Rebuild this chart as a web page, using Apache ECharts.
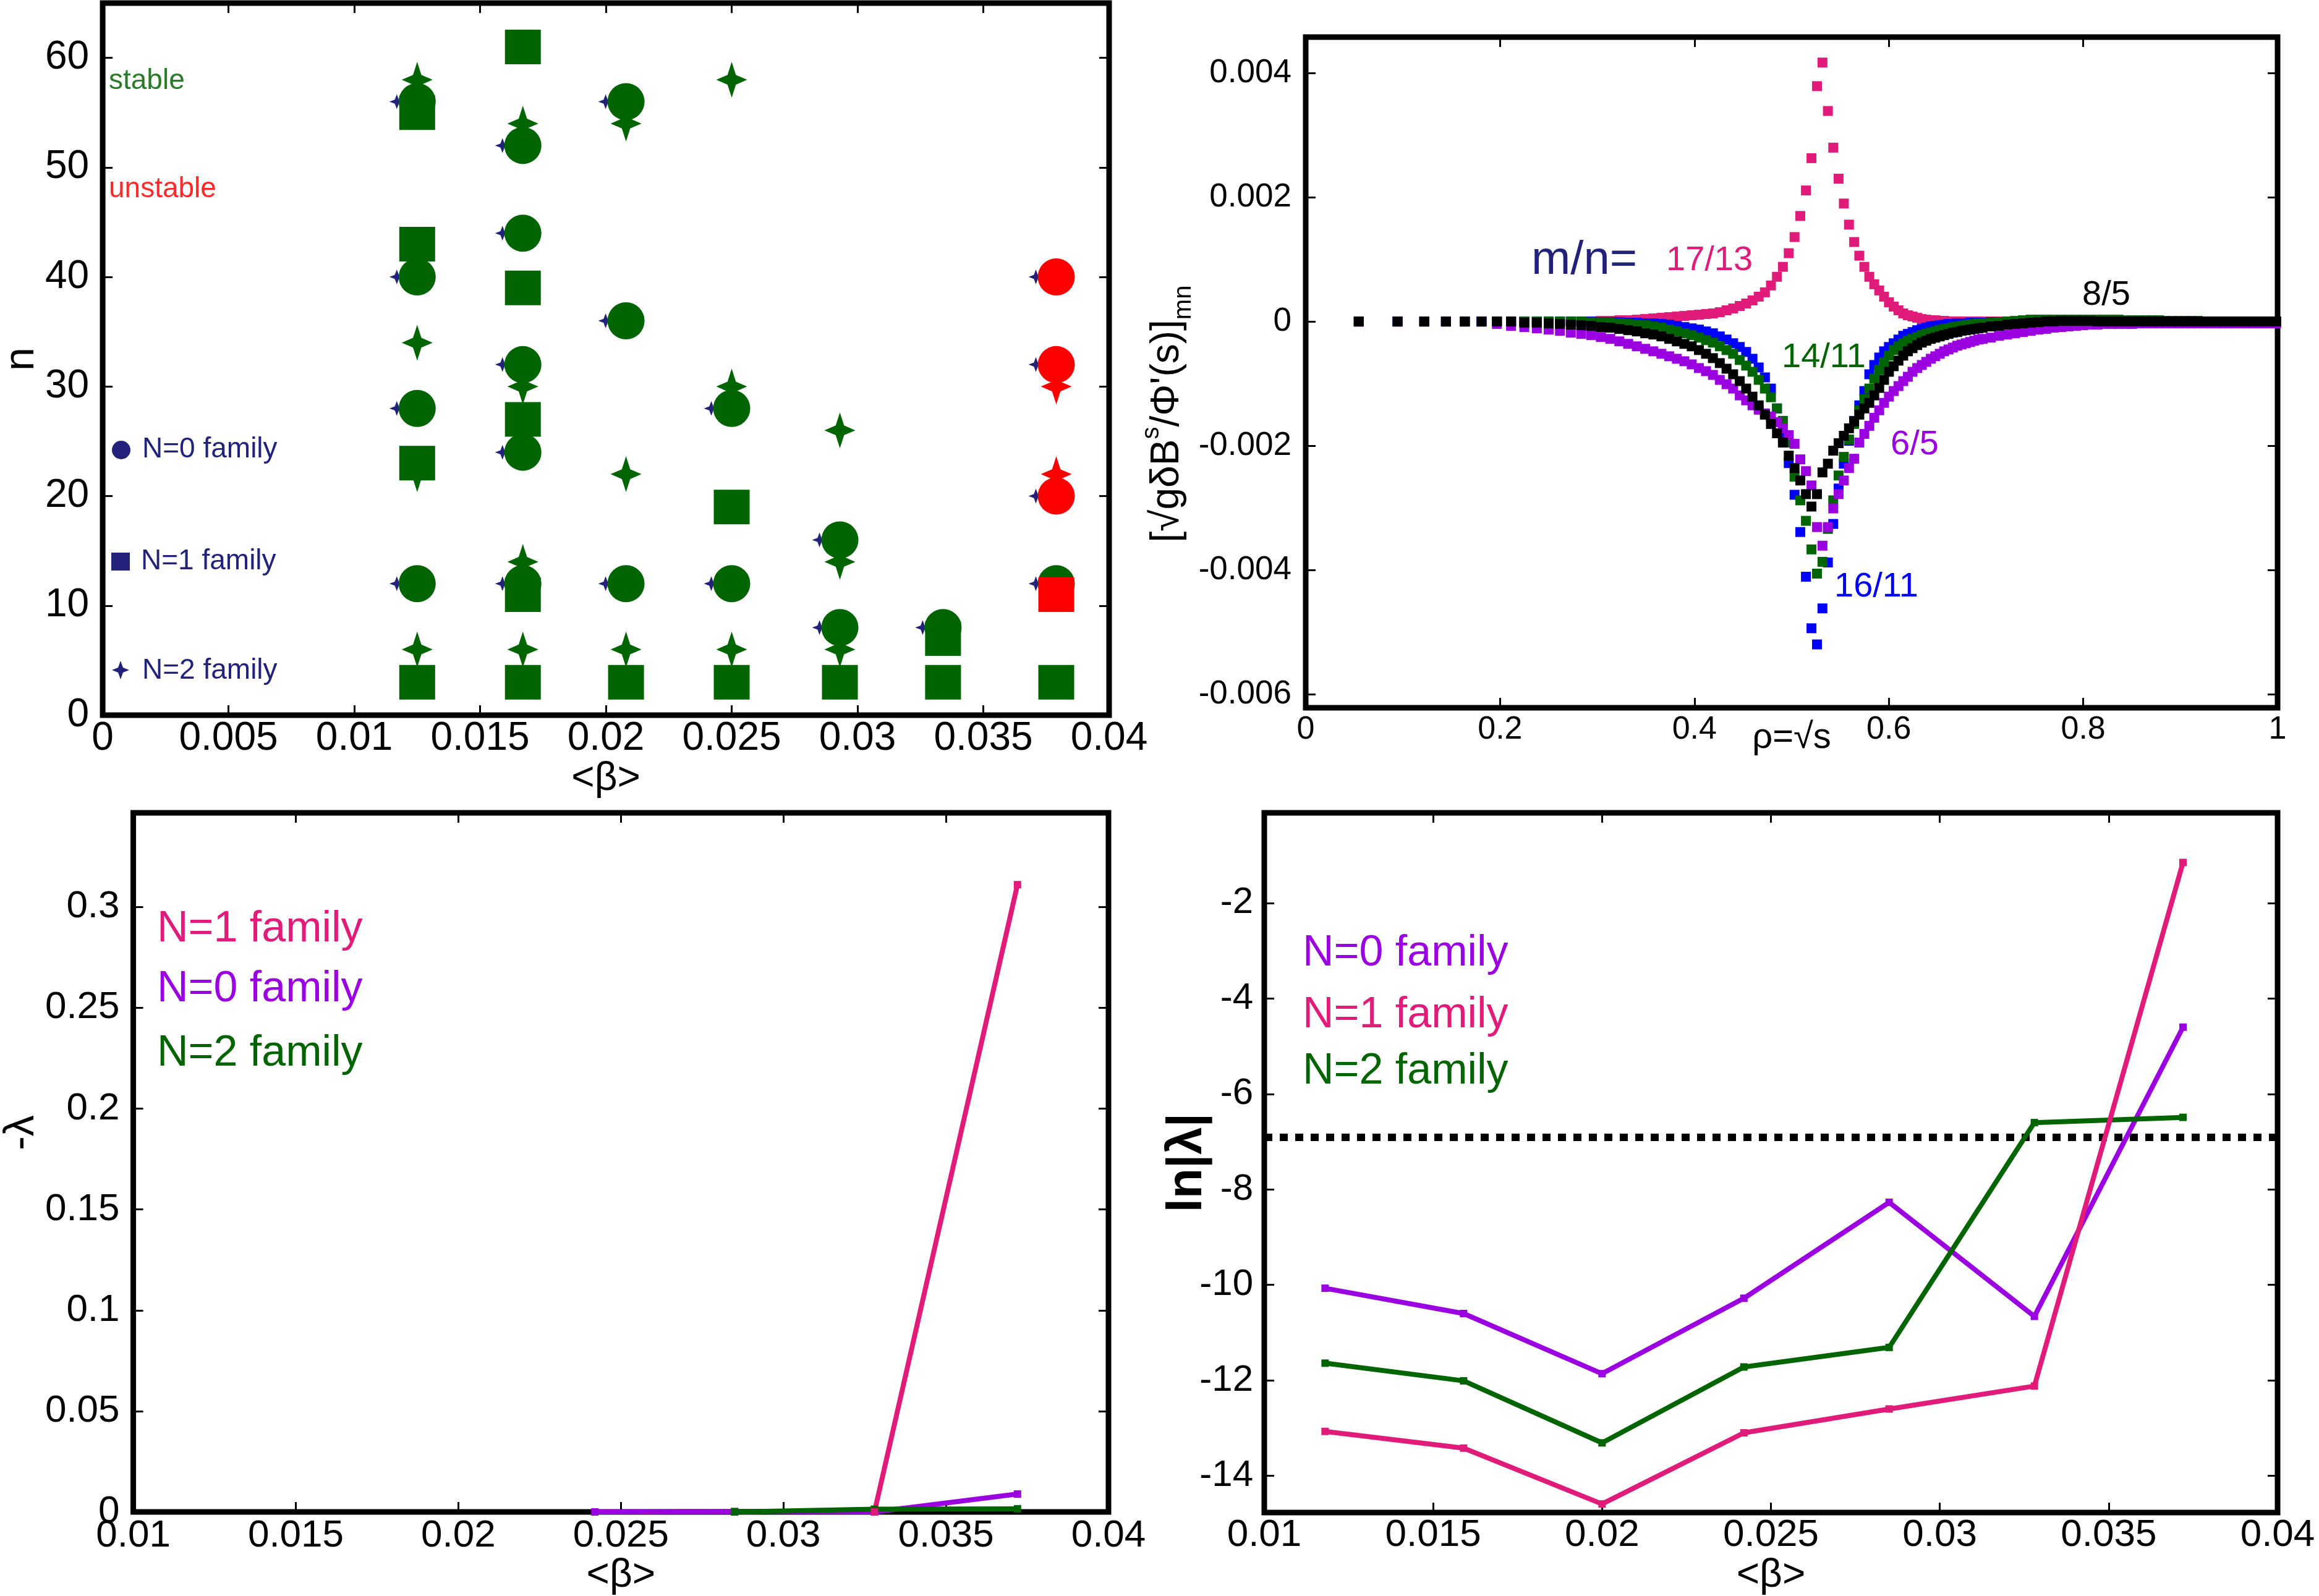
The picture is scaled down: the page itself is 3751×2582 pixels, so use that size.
<!DOCTYPE html>
<html>
<head>
<meta charset="utf-8">
<title>Mode families vs beta</title>
<script src="https://cdn.jsdelivr.net/npm/echarts@6/dist/echarts.min.js"></script>
<style>
html, body { margin: 0; padding: 0; background: #fff; }
#main { width: 3751px; height: 2582px; }
</style>
</head>
<body>
<div id="main"></div>
<script>
// ---------- top left: stable / unstable n for each <beta> ----------
var n0Stable = [[0.0125,56],[0.0125,40],[0.0125,28],[0.0125,12],
  [0.0167,52],[0.0167,44],[0.0167,32],[0.0167,24],[0.0167,12],
  [0.0208,56],[0.0208,36],[0.0208,12],
  [0.025,28],[0.025,12],
  [0.0293,16],[0.0293,8],
  [0.0334,8],
  [0.0379,12]];
var n0Unstable = [[0.0379,40],[0.0379,32],[0.0379,20]];
var n1Stable = [[0.0125,55],[0.0125,43],[0.0125,23],[0.0125,3],
  [0.0167,61],[0.0167,39],[0.0167,27],[0.0167,11],[0.0167,3],
  [0.0208,3],
  [0.025,19],[0.025,3],
  [0.0293,3],
  [0.0334,7],[0.0334,3],
  [0.0379,3]];
var n1Unstable = [[0.0379,11]];
var n2Stable = [[0.0125,58],[0.0125,34],[0.0125,22],[0.0125,6],
  [0.0167,54],[0.0167,30],[0.0167,14],[0.0167,6],
  [0.0208,54],[0.0208,22],[0.0208,6],
  [0.025,58],[0.025,30],[0.025,6],
  [0.0293,26],[0.0293,14],[0.0293,6]];
var n2Unstable = [[0.0379,30],[0.0379,22]];

// ---------- top right: resonant harmonics vs rho ----------
var rhoGrid = [
  0.0546,0.0945,0.1220,0.1443,0.1637,0.1809,0.1967,0.2113,0.2249,0.2378,
  0.2500,0.2616,0.2728,0.2835,0.2938,0.3037,0.3134,0.3227,0.3318,0.3407,
  0.3493,0.3577,0.3660,0.3740,0.3819,0.3896,0.3972,0.4046,0.4119,0.4190,
  0.4261,0.4330,0.4398,0.4466,0.4532,0.4597,0.4661,0.4725,0.4787,0.4849,
  0.4910,0.4970,0.5030,0.5089,0.5147,0.5204,0.5261,0.5317,0.5373,0.5428,
  0.5483,0.5537,0.5590,0.5643,0.5696,0.5748,0.5799,0.5850,0.5901,0.5951,
  0.6001,0.6050,0.6099,0.6148,0.6196,0.6244,0.6292,0.6339,0.6385,0.6432,
  0.6478,0.6524,0.6569,0.6614,0.6659,0.6704,0.6748,0.6792,0.6836,0.6879,0.6922,0.6965,
  0.7050,0.7134,0.7217,0.7299,0.7380,0.7460,0.7540,0.7618,0.7696,0.7773,
  0.7849,0.7925,0.7999,0.8073,0.8147,0.8219,0.8292,0.8363,0.8434,0.8504,
  0.8574,0.8643,0.8712,0.8780,0.8847,0.8914,0.8981,0.9047,0.9112,0.9177,
  0.9242,0.9306,0.9370,0.9433,0.9496,0.9559,0.9621,0.9682,0.9744,0.9805,
  0.9865,0.9925,0.9985
];
var mode17_13 = [
  0,0,0,0,0,0,0,0,0,0,
  0,0,0,0,0,0.00001,0.00001,0.00002,0.00002,0.00003,
  0.00004,0.00005,0.00006,0.00007,0.00008,0.00009,0.0001,0.00011,0.00012,0.00013,
  0.00015,0.00018,0.00021,0.00025,0.00029,0.00034,0.0004,0.00047,0.00058,0.00072,
  0.00088,0.0011,0.00136,0.0017,0.00211,0.00263,0.00379,0.00417,0.00339,0.0028,
  0.0023,0.0019,0.00156,0.00128,0.00106,0.00088,0.00072,0.0006,0.0005,0.0004,
  0.00031,0.00024,0.00018,0.00013,0.0001,0.00008,0.00006,0.00004,0.00003,0.00002,
  0.00002,0.00001,0.00001,0,0,0,0,0,0,0,0,0,
  0,0,0,0,0,0,0,0,0,0,
  0,0,0,0,0,0,0,0,0,0,
  0,0,0,0,0,0,0,0,0,0,
  0,0,0,0,0,0,0,0,0,0,
  0,0,0
];
var mode16_11 = [
  0,0,0,0,0,0,0,0,0,0,
  0,0,0,0,0,-0.00001,-0.00001,-0.00001,-0.00002,-0.00002,
  -0.00003,-0.00003,-0.00004,-0.00005,-0.00007,-0.00009,-0.00011,-0.00013,-0.00016,-0.00019,
  -0.00024,-0.00029,-0.00035,-0.00041,-0.00049,-0.0006,-0.00074,-0.0009,-0.00108,-0.0014,
  -0.00185,-0.00228,-0.00279,-0.00339,-0.00411,-0.00494,-0.0052,-0.00462,-0.00388,-0.00326,
  -0.00269,-0.00229,-0.00192,-0.0016,-0.00135,-0.00112,-0.00085,-0.0007,-0.00058,-0.00048,
  -0.00041,-0.00035,-0.00029,-0.00023,-0.0002,-0.00017,-0.00014,-0.00012,-0.0001,-0.00008,
  -0.00007,-0.00006,-0.00005,-0.00004,-0.00004,-0.00003,-0.00003,-0.00003,-0.00002,-0.00002,-0.00002,-0.00002,
  -0.00001,-0.00001,-0.00001,-0.00001,0,0,0,0,0,0,
  0,0,0,0,0,0,0,0,0,0,
  0,0,0,0,0,0,0,0,0,0,
  0,0,0,0,0,0,0,0,0,0,
  0,0,0
];
var mode14_11 = [
  0,0,0,0,0,0,0,0,0,0,
  0,0,0,0,-0.00001,-0.00002,-0.00002,-0.00003,-0.00004,-0.00005,
  -0.00006,-0.00008,-0.0001,-0.00013,-0.00016,-0.00019,-0.00022,-0.00026,-0.0003,-0.00034,
  -0.0004,-0.00046,-0.00052,-0.00062,-0.00071,-0.00081,-0.00094,-0.00108,-0.00122,-0.0014,
  -0.0016,-0.00195,-0.0025,-0.00288,-0.00321,-0.00367,-0.00406,-0.00387,-0.00334,-0.00288,
  -0.00248,-0.00218,-0.0019,-0.00165,-0.00143,-0.00125,-0.00108,-0.00092,-0.00078,-0.00066,
  -0.00055,-0.00046,-0.0004,-0.00035,-0.00031,-0.00028,-0.00025,-0.00022,-0.0002,-0.00018,
  -0.00016,-0.00014,-0.00012,-0.00011,-0.00009,-0.00008,-0.00007,-0.00006,-0.00005,-0.00004,-0.00003,-0.00003,
  -0.00002,-0.00001,0,0.00001,0.00002,0.00003,0.00003,0.00003,0.00003,0.00003,
  0.00003,0.00003,0.00003,0.00003,0.00003,0.00003,0.00003,0.00003,0.00002,0.00002,
  0.00002,0.00002,0.00002,0.00002,0.00001,0.00001,0.00001,0.00001,0.00001,0.00001,
  0,0,0,0,0,0,0,0,0,0,
  0,0,0
];
var mode6_5 = [
  0,0,0,0,0,0,-0.00004,-0.00007,-0.00009,-0.00011,
  -0.00013,-0.00015,-0.00018,-0.0002,-0.00022,-0.00025,-0.00028,-0.00032,-0.00036,-0.0004,
  -0.00044,-0.00048,-0.00052,-0.00056,-0.0006,-0.00064,-0.00069,-0.00075,-0.0008,-0.00086,
  -0.00094,-0.00101,-0.00108,-0.00119,-0.00127,-0.00135,-0.00142,-0.00148,-0.00153,-0.00162,
  -0.00172,-0.00183,-0.00197,-0.00222,-0.00241,-0.00264,-0.00331,-0.00361,-0.00331,-0.00301,
  -0.00278,-0.00256,-0.00236,-0.00221,-0.00195,-0.00181,-0.00168,-0.00155,-0.00143,-0.00131,
  -0.00121,-0.00112,-0.00104,-0.00096,-0.00089,-0.00081,-0.00075,-0.0007,-0.00065,-0.0006,
  -0.00056,-0.00052,-0.00048,-0.00045,-0.00042,-0.00039,-0.00037,-0.00035,-0.00033,-0.00031,-0.00029,-0.00028,
  -0.00026,-0.00023,-0.00021,-0.00019,-0.00017,-0.00015,-0.00013,-0.00012,-0.0001,-0.00009,
  -0.00008,-0.00007,-0.00006,-0.00005,-0.00005,-0.00004,-0.00004,-0.00004,-0.00004,-0.00004,
  -0.00003,-0.00003,-0.00003,-0.00003,-0.00003,-0.00003,-0.00003,-0.00003,-0.00003,-0.00003,
  -0.00003,-0.00003,-0.00003,-0.00003,-0.00003,-0.00003,-0.00003,-0.00003,-0.00003,-0.00003,
  -0.00003,-0.00003,-0.00003
];
var mode8_5 = [
  0,0,0,0,0,0,0,0,-0.00002,-0.00002,
  -0.00003,-0.00004,-0.00005,-0.00006,-0.00007,-0.00009,-0.0001,-0.00012,-0.00014,-0.00016,
  -0.00019,-0.00021,-0.00024,-0.00028,-0.00032,-0.00036,-0.0004,-0.00046,-0.00052,-0.00059,
  -0.00067,-0.00076,-0.00085,-0.00096,-0.00108,-0.00121,-0.00135,-0.0015,-0.00165,-0.0018,
  -0.00195,-0.00216,-0.00236,-0.00256,-0.00278,-0.00298,-0.00278,-0.00243,-0.00229,-0.00208,
  -0.00196,-0.00184,-0.00172,-0.00161,-0.0015,-0.0014,-0.00131,-0.00119,-0.00107,-0.00094,
  -0.00081,-0.00072,-0.00063,-0.00055,-0.00048,-0.00043,-0.00038,-0.00034,-0.00031,-0.00028,
  -0.00026,-0.00024,-0.00022,-0.0002,-0.00018,-0.00017,-0.00015,-0.00014,-0.00013,-0.00012,-0.00011,-0.0001,
  -0.00008,-0.00007,-0.00005,-0.00004,-0.00003,-0.00002,-0.00001,0,0,0.00001,
  0.00001,0.00001,0.00001,0.00001,0,0,0,0,0,0,
  0,0,0,0,0,0,0,0,0,0,
  0,0,0,0,0,0,0,0,0,0,
  0,0,0
];
var harmonicTicks = [-0.006, -0.004, -0.002, 0, 0.002, 0.004];

// ---------- bottom: growth rates vs <beta> ----------
var growthBetaN1 = [0.0328, 0.0372];
var growthN1 = [0.0, 0.311];
var growthBetaN0 = [0.0242, 0.0285, 0.0328, 0.0372];
var growthN0 = [0.00003, 0.00026, 0.00002, 0.0089];
var growthBetaN2 = [0.0285, 0.0328, 0.0372];
var growthN2 = [0.00001, 0.0014, 0.0016];

var betaLine = [0.0118, 0.0159, 0.0200, 0.0242, 0.0285, 0.0328, 0.0372];
var lnLamN0 = [-10.07, -10.60, -11.86, -10.28, -8.27, -10.66, -4.60];
var lnLamN1 = [-13.07, -13.42, -14.59, -13.10, -12.60, -12.12, -1.15];
var lnLamN2 = [-11.64, -12.01, -13.31, -11.72, -11.31, -6.60, -6.49];
var thresholdBeta = [0.01, 0.04];
var thresholdLn = [-6.91, -6.91];
var lnTicks = [-14, -12, -10, -8, -6, -4, -2];

// ---------- styling ----------
var FONT = "'Liberation Sans', Arial, Helvetica, sans-serif";
var GREEN = '#006400', RED = '#ff0000', NAVY = '#22227a';
var PINK = '#e01b7a', PURPLE = '#9b00e0', BLUE = '#0000ff';
var STAR = 'path://M0,-10 L2.7,-2.7 L10,0 L2.7,2.7 L0,10 L-2.7,2.7 L-10,0 L-2.7,-2.7 Z';

function pairs(xs, ys) {
  return xs.map(function (x, i) { return [x, ys[i]]; });
}
function frame(l, t, w, h) {
  return { left: l, top: t, width: w, height: h, show: true,
           borderColor: '#000', borderWidth: 9, backgroundColor: 'transparent' };
}
function ticks(custom) {
  var t = { inside: true, length: 16, lineStyle: { color: '#000', width: 3 } };
  if (custom) t.customValues = custom;
  return t;
}
function mainAxis(grid, min, max, interval, size, margin, extra) {
  var a = {
    type: 'value', gridIndex: grid, min: min, max: max,
    axisLine: { show: false, onZero: false }, splitLine: { show: false },
    axisTick: ticks(),
    axisLabel: { color: '#000', fontSize: size, fontFamily: FONT, margin: margin }
  };
  if (interval) a.interval = interval;
  for (var k in extra) a[k] = extra[k];
  return a;
}
function mirror(grid, min, max, interval, pos, custom) {
  var a = {
    type: 'value', gridIndex: grid, min: min, max: max, position: pos,
    axisLine: { show: false, onZero: false }, splitLine: { show: false },
    axisTick: ticks(custom), axisLabel: { show: false }
  };
  if (interval) a.interval = interval;
  return a;
}
function text(x, y, str, color, size, weight) {
  return { type: 'text', x: x, y: y, silent: true, z: 50,
    style: { text: str, fill: color, font: (weight || 'normal') + ' ' + size + 'px ' + FONT,
             textAlign: 'left', textVerticalAlign: 'middle', align: 'left', verticalAlign: 'middle' } };
}
function scatter(name, data, symbol, size, color, xi, yi, extra) {
  var s = { name: name, type: 'scatter', xAxisIndex: xi, yAxisIndex: yi, data: data,
    symbol: symbol, symbolSize: size, itemStyle: { color: color, opacity: 1 },
    silent: true, animation: false };
  for (var k in extra) s[k] = extra[k];
  return s;
}
function line(name, data, color, xi, yi) {
  return { name: name, type: 'line', xAxisIndex: xi, yAxisIndex: yi, data: data,
    symbol: 'rect', symbolSize: 12, showSymbol: true,
    lineStyle: { color: color, width: 8 }, itemStyle: { color: color },
    silent: true, animation: false };
}
function nameStyle(size, extra) {
  var s = { color: '#000', fontSize: size, fontFamily: FONT };
  for (var k in extra) s[k] = extra[k];
  return s;
}

var chart = echarts.init(document.getElementById('main'));

var option = {
  animation: false,
  backgroundColor: '#fff',
  textStyle: { fontFamily: FONT },
  grid: [
    frame(155, 5, 1639, 1152),
    frame(2112, 60, 1572, 1085),
    frame(198, 1315, 1595, 1146),
    frame(2045, 1315, 1639, 1146)
  ],
  xAxis: [
    mainAxis(0, 0, 0.04, 0.005, 64, 6, { name: '<β>', nameLocation: 'middle', nameGap: 58, nameTextStyle: nameStyle(64) }),
    mirror(0, 0, 0.04, 0.005, 'top'),
    mainAxis(1, 0, 1, 0.2, 52, 10, { name: 'ρ=√s', nameLocation: 'middle', nameGap: 20,
      nameMoveOverlap: false, nameTextStyle: nameStyle(58) }),
    mirror(1, 0, 1, 0.2, 'top'),
    mainAxis(2, 0.01, 0.04, 0.005, 62, 8, { name: '<β>', nameLocation: 'middle', nameGap: 70, nameTextStyle: nameStyle(64) }),
    mirror(2, 0.01, 0.04, 0.005, 'top'),
    mainAxis(3, 0.01, 0.04, 0.005, 62, 6, { name: '<β>', nameLocation: 'middle', nameGap: 70, nameTextStyle: nameStyle(64) }),
    mirror(3, 0.01, 0.04, 0.005, 'top')
  ],
  yAxis: [
    mainAxis(0, 0, 65, 10, 64, 22, { name: 'n', nameLocation: 'middle', nameGap: 80, nameTextStyle: nameStyle(68) }),
    mirror(0, 0, 65, 10, 'right'),
    mainAxis(1, -0.00622, 0.00458, null, 53, 23, {
      name: "[√gδB{sup|s}/Φ'(s)]{sub|mn}", nameLocation: 'middle', nameGap: 128,
      nameTextStyle: nameStyle(64, { lineHeight: 92, padding: [0, 134, 0, 0],
        rich: { sup: { fontSize: 40, fontFamily: FONT, color: '#000', verticalAlign: 'top' },
                sub: { fontSize: 40, fontFamily: FONT, color: '#000', verticalAlign: 'bottom' } } }),
      axisTick: ticks(harmonicTicks)
    }),
    mirror(1, -0.00622, 0.00458, null, 'right', harmonicTicks),
    mainAxis(2, 0, 0.3466, 0.05, 62, 22, { name: '-λ', nameLocation: 'middle', nameGap: 118,
      nameTextStyle: nameStyle(68, { padding: [0, 0, 0, 96] }) }),
    mirror(2, 0, 0.3466, 0.05, 'right'),
    mainAxis(3, -14.77, -0.11, null, 60, 18, { name: 'ln|λ|', nameLocation: 'middle', nameGap: 84,
      nameMoveOverlap: false,
      nameTextStyle: nameStyle(80, { fontWeight: 'bold' }), axisTick: ticks(lnTicks) }),
    mirror(3, -14.77, -0.11, null, 'right', lnTicks)
  ],
  graphic: [
    text(176, 131, 'stable', '#2a7a2a', 46),
    text(176, 306, 'unstable', '#ff2a2a', 46),
    { type: 'circle', silent: true, z: 50, shape: { cx: 196, cy: 728, r: 15 }, style: { fill: NAVY } },
    text(230, 727, 'N=0 family', NAVY, 46),
    { type: 'rect', silent: true, z: 50, shape: { x: 180, y: 894, width: 30, height: 29 }, style: { fill: NAVY } },
    text(228, 908, 'N=1 family', NAVY, 46),
    { type: 'polygon', silent: true, z: 50,
      shape: { points: [[195,1069],[199,1080],[209,1084],[199,1088],[195,1099],[191,1088],[181,1084],[191,1080]] },
      style: { fill: NAVY } },
    text(230, 1085, 'N=2 family', NAVY, 46),

    text(2477, 422, 'm/n=', NAVY, 76),
    text(2695, 422, '17/13', PINK, 56),
    text(2882, 579, '14/11', GREEN, 56),
    text(3058, 720, '6/5', PURPLE, 56),
    text(2967, 950, '16/11', BLUE, 56),
    text(3368, 478, '8/5', '#000', 56),

    text(254, 1504, 'N=1 family', PINK, 70),
    text(254, 1601, 'N=0 family', PURPLE, 70),
    text(254, 1705, 'N=2 family', GREEN, 70),

    text(2107, 1543, 'N=0 family', PURPLE, 70),
    text(2107, 1643, 'N=1 family', PINK, 70),
    text(2107, 1734, 'N=2 family', GREEN, 70)
  ],
  series: [
    // top left
    scatter('N=1 stable', n1Stable, 'rect', [58, 56], GREEN, 0, 0),
    scatter('N=2 stable', n2Stable, STAR, [50, 58], GREEN, 0, 0),
    scatter('N=0 tag', n0Stable.concat(n0Unstable), STAR, [24, 24], NAVY, 0, 0, { symbolOffset: [-33, 0] }),
    scatter('N=0 stable', n0Stable, 'circle', 60, GREEN, 0, 0),
    scatter('N=2 unstable', n2Unstable, STAR, [50, 58], RED, 0, 0),
    scatter('N=0 unstable', n0Unstable, 'circle', 60, RED, 0, 0),
    scatter('N=1 unstable', n1Unstable, 'rect', [58, 56], RED, 0, 0),
    // top right
    scatter('17/13', pairs(rhoGrid, mode17_13), 'rect', 16, PINK, 2, 2, { clip: true }),
    scatter('16/11', pairs(rhoGrid, mode16_11), 'rect', 16, BLUE, 2, 2, { clip: true }),
    scatter('14/11', pairs(rhoGrid, mode14_11), 'rect', 16, GREEN, 2, 2, { clip: true }),
    scatter('6/5', pairs(rhoGrid, mode6_5), 'rect', 16, PURPLE, 2, 2, { clip: true }),
    scatter('8/5', pairs(rhoGrid, mode8_5), 'rect', 16, '#000', 2, 2, { clip: true }),
    // bottom left
    line('N=0 family', pairs(growthBetaN0, growthN0), PURPLE, 4, 4),
    line('N=2 family', pairs(growthBetaN2, growthN2), GREEN, 4, 4),
    line('N=1 family', pairs(growthBetaN1, growthN1), PINK, 4, 4),
    // bottom right
    {
      name: 'threshold', type: 'line', xAxisIndex: 6, yAxisIndex: 6,
      data: pairs(thresholdBeta, thresholdLn), showSymbol: false, symbol: 'none',
      lineStyle: { color: '#000', width: 12, type: [13, 12] }, silent: true, animation: false
    },
    line('N=0 family', pairs(betaLine, lnLamN0), PURPLE, 6, 6),
    line('N=2 family', pairs(betaLine, lnLamN2), GREEN, 6, 6),
    line('N=1 family', pairs(betaLine, lnLamN1), PINK, 6, 6)
  ]
};

option.yAxis[0].axisLabel.showMaxLabel = false;
option.yAxis[2].axisLabel.customValues = harmonicTicks;
option.yAxis[2].axisLabel.formatter = function (v) { return v === 0 ? '0' : v.toFixed(3); };
option.yAxis[4].axisLabel.showMaxLabel = false;
option.yAxis[6].axisLabel.customValues = lnTicks;

chart.setOption(option);
</script>
</body>
</html>
